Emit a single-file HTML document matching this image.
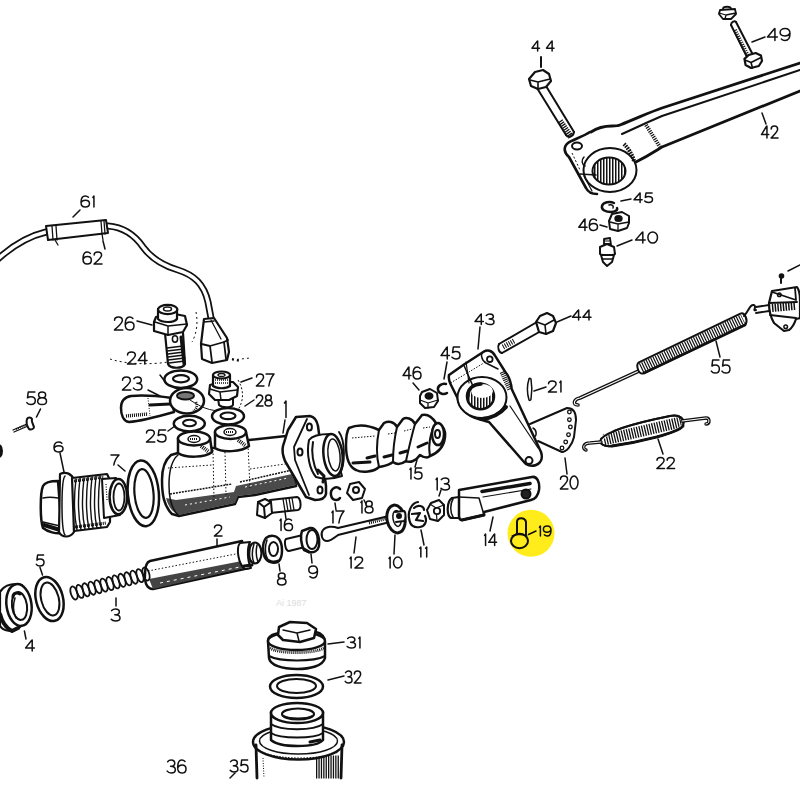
<!DOCTYPE html>
<html><head><meta charset="utf-8"><style>
html,body{margin:0;padding:0;background:#fff;width:800px;height:800px;overflow:hidden}
svg{display:block}
.lbl{fill:none;stroke:#111;stroke-linecap:round;stroke-linejoin:round}
path[stroke-dasharray]{stroke-linecap:butt}
text{font-family:"Liberation Sans",sans-serif;font-size:16px;fill:#111;stroke:#111;stroke-width:0.45px;letter-spacing:0.5px}
</style></head><body>
<svg width="800" height="800" viewBox="0 0 800 800">
<defs>
<pattern id="hatch" width="3" height="10" patternUnits="userSpaceOnUse">
<rect width="3" height="10" fill="#fff"/><rect width="1.5" height="10" fill="#111"/>
</pattern>
</defs>
<g fill="none" stroke="#111" stroke-width="2" stroke-linecap="round" stroke-linejoin="round">

<!-- ===== 42 pedal lever (top right) ===== -->
<g id="p42">
<path d="M591,132 C597,128 604,126 612,126 C616,126 618,126 620,125 C640,117 650,112 662,108 L800,63" stroke-width="2.8"/>
<path d="M622,134 C640,126 652,120 662,116 L800,70"/>
<path d="M634,163 C650,155 657,150 662,147 L800,91" stroke-width="2.8"/>
<path d="M590,132 C582,137 572,140 568,143 C563,147 564,153 569,157 L586,188 C588,192 592,194 597,194" stroke-width="2.6"/>
<ellipse cx="610" cy="170" rx="26.5" ry="22" fill="#fff"/>
<ellipse cx="609" cy="171" rx="16.5" ry="13.5" fill="url(#hatch)"/>
<ellipse cx="577" cy="146" rx="5" ry="3.5"/>
<path d="M580,174 L596,175" stroke-width="1.5"/>
<path d="M572,153 L580,170" stroke-width="1" stroke-dasharray="2 2"/>
<path d="M584,176 L592,191" stroke-width="1.2"/>
<path d="M584,157 C581,160 582,165 585,166" stroke-width="1.5"/>
<path d="M624,144 C628,148 632,154 634,161" stroke-width="4" stroke-dasharray="1.6 1"/>
<path d="M646,125 L660,147" stroke-width="4" stroke-dasharray="1.2 1.1"/>
</g>
<!-- 44 top bolt -->
<g id="b44a">
<path d="M537,88 L566,135 M546,86 L574,132"/>
<path d="M566,135 C568,138 573,137 574,132"/>
<path d="M560,121 L571,137" stroke-width="6" stroke-dasharray="1.3 1"/>
<path d="M529,79 L535,72 L543,70 L549,74 L551,81 L546,87 L538,89 L531,86 Z" fill="#fff" stroke-width="2.2"/>
<path d="M530,80 L538,82 L550,79 M538,82 L538,89" stroke-width="1.6"/>
<path d="M541,57 L541,67"/>
</g>
<g class="lbl" stroke-width="1.5"><path d="M 537.64,51.00 L 537.64,41.00 M 537.26,41.17 L 532.00,48.17 L 539.52,48.17"/><path d="M 552.12,51.00 L 552.12,41.00 M 551.74,41.17 L 546.48,48.17 L 554.00,48.17"/></g>
<!-- 49 bolt + nut -->
<g id="b49">
<path d="M731,25 L747,57 M736,22 L753,55"/>
<path d="M731,25 C731,22 735,20 736,22"/>
<path d="M735,30 L748,56" stroke-width="4" stroke-dasharray="1 1.3"/>
<path d="M744.4,58.8 L748.8,55 L755.6,53 L761,55.6 L762,61 L758.8,66 L751,68 L745.6,65 Z" fill="#fff" stroke-width="2.2"/>
<path d="M745,60 L751,62.5 L761,57.5 M751,62.5 L752.5,68" stroke-width="1.6"/>
<path d="M720,10 L735,9 L736,14 L731,19 L723,19 L719,14 Z" fill="#fff" stroke-width="1.8"/>
<path d="M719,13 L726,15 L736,13 M726,15 L725,19" stroke-width="1.3"/>
<path d="M723,9 C723,6 731,6 731,9" stroke-width="1.8"/>
<path d="M752,42 L765,37" stroke-width="1.5"/>
</g>
<g class="lbl" stroke-width="1.5"><path d="M 774.92,40.50 L 774.92,28.50 M 774.42,28.70 L 767.50,37.10 L 777.39,37.10"/><path d="M 781.35,39.10 C 782.21,40.00 783.57,40.50 785.05,40.50 C 788.02,40.50 790.00,38.10 790.00,33.50 C 790.00,30.40 788.02,28.50 785.05,28.50 C 782.21,28.50 780.11,30.10 780.11,32.30 C 780.11,34.50 782.09,35.90 784.81,35.90 C 787.16,35.90 789.26,34.90 790.00,33.10"/></g>
<path d="M762,113 L766,124" stroke-width="1.5"/>
<g class="lbl" stroke-width="1.5"><path d="M 766.94,138.00 L 766.94,126.00 M 766.58,126.20 L 761.50,134.60 L 768.75,134.60"/><path d="M 771.20,129.00 C 771.20,127.10 772.56,126.00 774.37,126.00 C 776.37,126.00 777.64,127.30 777.64,129.20 C 777.64,131.60 775.10,133.80 771.11,138.00 L 778.00,138.00"/></g>
<!-- 45 46 40 -->
<g id="p40">
<path d="M614,203 C610,201 603,202 602,206 C601,210 606,212 611,212 C615,212 618,210 617,208" stroke-width="2.5"/>
<path d="M609,205 C612,204 614,206 613,208" stroke-width="1.5"/>
<path d="M612,214 L622,212 L629,216 L629,223 L627,228 L618,231 L610,229 L609,221 Z" fill="#fff" stroke-width="2"/>
<path d="M610,222 L618,224 L629,222 M618,224 L618,231" stroke-width="1.3"/>
<ellipse cx="618.5" cy="218.5" rx="3.2" ry="2.5" fill="#111"/>
<path d="M604,239 L610,238 L611,245 L604,246 Z" fill="#fff" stroke-width="1.8"/>
<path d="M604,241 L610,241 M604,243.5 L610,243.5" stroke-width="1"/>
<path d="M600,247 L607,244 L614,247 L615,254 L608,257 L600,254 Z" fill="#fff" stroke-width="2"/>
<path d="M601,255 L614,255 L612,262 L607,266 L603,262 Z" fill="#fff" stroke-width="2"/>
<path d="M602,259 L612,259" stroke-width="1.3"/>
<path d="M621,201 L631,199 M600,225 L607,227 M617,246 L632,240" stroke-width="1.5"/>
</g>
<g class="lbl" stroke-width="1.5"><path d="M 640.10,202.50 L 640.10,193.00 M 639.69,193.16 L 634.00,199.81 L 642.13,199.81"/><path d="M 652.09,193.00 L 645.99,193.00 L 645.28,197.43 C 646.20,196.88 647.32,196.56 648.43,196.56 C 650.98,196.56 652.50,197.75 652.50,199.49 C 652.50,201.31 650.77,202.50 648.43,202.50 C 646.81,202.50 645.38,201.95 644.67,201.07"/></g>
<g class="lbl" stroke-width="1.5"><path d="M 584.96,230.50 L 584.96,219.00 M 584.55,219.19 L 578.80,227.24 L 587.02,227.24"/><path d="M 596.47,220.34 C 595.75,219.48 594.62,219.00 593.39,219.00 C 590.92,219.00 589.28,221.30 589.28,225.71 C 589.28,228.68 590.92,230.50 593.39,230.50 C 595.75,230.50 597.50,228.97 597.50,226.86 C 597.50,224.75 595.86,223.41 593.60,223.41 C 591.64,223.41 589.90,224.37 589.28,226.09"/></g>
<g class="lbl" stroke-width="1.5"><path d="M 642.82,243.00 L 642.82,232.00 M 642.34,232.18 L 635.60,239.88 L 645.23,239.88"/><ellipse cx="652.69" cy="237.50" rx="4.81" ry="5.50"/></g>

<!-- ===== cable 61/62 ===== -->
<g id="cable">
<path d="M-2,259 C10,248 25,237 46,232" stroke-width="7"/>
<path d="M-2,259 C10,248 25,237 46,232" stroke="#fff" stroke-width="3.5"/>
<path d="M108,226 C122,227 134,234 143,247 C151,258 161,265 178,270 C194,275 204,284 208,302 L211,318" stroke-width="7"/>
<path d="M108,226 C122,227 134,234 143,247 C151,258 161,265 178,270 C194,275 204,284 208,302 L211,318" stroke="#fff" stroke-width="3.5"/>
<path d="M46,226 L106,220 L108,233 L48,240 Z" fill="#fff"/>
<path d="M52,226 L53,240 M56,226 L57,240 M101,221 L102,234 M104,221 L105,234" stroke-width="1.3"/>
<path d="M55,240 L58,245 M102,234 L103,240" stroke-width="1.3"/>
<path d="M204,319 L214,318 L227,338 L229,352 L227,360 L212,363 L202,359 L201,344 Z" fill="#fff" stroke-width="2.2"/>
<path d="M201.5,344 L210,346 L224,342 L228,340 M210,346 L212,362 M224,342 L226,359" stroke-width="1.8"/>
<path d="M204,322 L214,321 M211,320 L221,339" stroke-width="1.3"/>
<path d="M232,359 L240,361" stroke-width="2" stroke-dasharray="2 3"/>
<path d="M73,217 L80,210 M103,241 L105,249" stroke-width="1.5"/>
</g>
<g class="lbl" stroke-width="1.5"><path d="M 88.42,197.28 C 87.68,196.46 86.52,196.00 85.24,196.00 C 82.70,196.00 81.00,198.20 81.00,202.42 C 81.00,205.26 82.70,207.00 85.24,207.00 C 87.68,207.00 89.48,205.53 89.48,203.52 C 89.48,201.50 87.79,200.22 85.45,200.22 C 83.44,200.22 81.64,201.13 81.00,202.78"/><path d="M 92.88,197.38 L 93.94,196.00 L 93.94,207.00"/></g>
<g class="lbl" stroke-width="1.5"><path d="M 90.31,253.40 C 89.58,252.50 88.43,252.00 87.18,252.00 C 84.67,252.00 83.00,254.40 83.00,259.00 C 83.00,262.10 84.67,264.00 87.18,264.00 C 89.58,264.00 91.35,262.40 91.35,260.20 C 91.35,258.00 89.68,256.60 87.38,256.60 C 85.40,256.60 83.63,257.60 83.00,259.40"/><path d="M 94.17,255.00 C 94.17,253.10 95.74,252.00 97.82,252.00 C 100.12,252.00 101.58,253.30 101.58,255.20 C 101.58,257.60 98.66,259.80 94.07,264.00 L 102.00,264.00"/></g>

<!-- 26 banjo bolt -->
<g id="b26">
<path d="M165,333 L168,364 C170,369 183,369 185,364 L183,333" fill="#fff" stroke-width="2.2"/>
<path d="M167,348 L183,346 M167,351 L184,349 M168,354 L184,352 M168,357 L184,355 M168,360 L185,358 M169,363 L185,361" stroke-width="1.6"/>
<path d="M181,337 L184,364" stroke-width="3"/>
<ellipse cx="175" cy="339" rx="2.6" ry="3.2" stroke-width="1.5"/>
<path d="M156,317 L170,313 L185,316 L187,325 L183,332 L168,335 L154,331 L154,322 Z" fill="#fff" stroke-width="2.2"/>
<path d="M155,322 L168,326 L187,324 M168,326 L168,335" stroke-width="1.5"/>
<path d="M158,309 L158,319 C162,323 174,323 177,319 L177,309" fill="#fff" stroke-width="2.2"/>
<ellipse cx="167.7" cy="309.5" rx="9.6" ry="4.6" fill="#fff" stroke-width="2.2"/>
<ellipse cx="167.5" cy="309" rx="4" ry="2" stroke-width="1.5"/>
<path d="M137,321 L152,325" stroke-width="1.5"/>
<path d="M110,359 C125,364 150,365 168,362" stroke-width="1" stroke-dasharray="2 3"/>
<path d="M232,360 L250,358" stroke-width="1" stroke-dasharray="2 3"/>
<path d="M196,312 C198,322 197,333 192,342" stroke-width="1" stroke-dasharray="2 3"/>
</g>
<g class="lbl" stroke-width="1.5"><path d="M 114.55,320.25 C 114.55,318.19 116.20,317.00 118.40,317.00 C 120.81,317.00 122.35,318.41 122.35,320.47 C 122.35,323.07 119.27,325.45 114.44,330.00 L 122.79,330.00"/><path d="M 132.90,318.52 C 132.13,317.54 130.92,317.00 129.60,317.00 C 126.97,317.00 125.21,319.60 125.21,324.58 C 125.21,327.94 126.97,330.00 129.60,330.00 C 132.13,330.00 134.00,328.27 134.00,325.88 C 134.00,323.50 132.24,321.98 129.82,321.98 C 127.74,321.98 125.87,323.07 125.21,325.02"/></g>
<g class="lbl" stroke-width="1.5"><path d="M 127.55,355.00 C 127.55,353.10 129.20,352.00 131.40,352.00 C 133.81,352.00 135.35,353.30 135.35,355.20 C 135.35,357.60 132.27,359.80 127.44,364.00 L 135.79,364.00"/><path d="M 144.80,364.00 L 144.80,352.00 M 144.36,352.20 L 138.21,360.60 L 147.00,360.60"/></g>

<!-- 24 washer, 23 banjo, 25 washer -->
<g id="p23">
<ellipse cx="180.8" cy="379.2" rx="16.4" ry="8.8" fill="#fff" stroke-width="2.5"/>
<ellipse cx="181" cy="378.8" rx="8" ry="3.6" stroke-width="2.2"/>
<path d="M160,375 L166,383" stroke-width="1.5"/>
<path d="M131,396 C142,395 158,396 172,398 L174,412 C160,416 142,421 129,422 C123,421 121,414 121,408 C121,401 125,397 131,396 Z" fill="#fff" stroke-width="2.5"/>
<path d="M126,416 L148,414" stroke-width="3.5" stroke-dasharray="1 1"/>
<path d="M150,405 L170,404" stroke-width="3"/>
<path d="M148,398 L150,416" stroke-width="1" stroke-dasharray="1 1.5"/>
<ellipse cx="187" cy="400.7" rx="17" ry="12.7" fill="#fff" stroke-width="2.5"/>
<ellipse cx="185.5" cy="395.7" rx="8.5" ry="3.8" fill="#777" stroke-width="2"/>
<path d="M196,402 C198,406 196,410 193,411" stroke-width="2.5" stroke-dasharray="1 1"/>
<path d="M148,390 L160,396" stroke-width="1.5"/>
<ellipse cx="189.3" cy="423.6" rx="15.5" ry="7.8" fill="#fff" stroke-width="2.5"/>
<ellipse cx="189.5" cy="423" rx="6.5" ry="3.2" stroke-width="2"/>
<path d="M168,431 L175,426" stroke-width="1.5"/>
<path d="M190,400 C205,410 215,412 225,410" stroke-width="1"/>
</g>
<g class="lbl" stroke-width="1.5"><path d="M 122.55,380.25 C 122.55,378.19 124.20,377.00 126.40,377.00 C 128.81,377.00 130.35,378.41 130.35,380.47 C 130.35,383.07 127.27,385.45 122.44,390.00 L 130.79,390.00"/><path d="M 133.87,378.73 C 134.86,377.54 136.18,377.00 137.60,377.00 C 139.80,377.00 141.34,378.30 141.34,380.25 C 141.34,382.20 139.80,383.28 136.95,383.28 C 140.02,383.28 142.00,384.58 142.00,386.75 C 142.00,388.81 140.13,390.00 137.60,390.00 C 135.96,390.00 134.31,389.35 133.43,388.16"/></g>
<g class="lbl" stroke-width="1.5"><path d="M 146.55,433.00 C 146.55,431.10 148.20,430.00 150.40,430.00 C 152.81,430.00 154.35,431.30 154.35,433.20 C 154.35,435.60 151.27,437.80 146.44,442.00 L 154.79,442.00"/><path d="M 165.56,430.00 L 158.97,430.00 L 158.20,435.60 C 159.19,434.90 160.40,434.50 161.60,434.50 C 164.35,434.50 166.00,436.00 166.00,438.20 C 166.00,440.50 164.13,442.00 161.60,442.00 C 159.85,442.00 158.31,441.30 157.54,440.20"/></g>

<!-- 27 union, 28 washer -->
<g id="p27">
<path d="M218,398 L219,405 C222,408 231,408 233,405 L233,398" fill="#fff" stroke-width="2"/>
<path d="M210,385 L220,382 L233,382 L238,387 L237,396 L229,400 L215,400 L209,394 Z" fill="#fff" stroke-width="2.2"/>
<path d="M210,389 L220,392 L237,390 M220,392 L221,400" stroke-width="1.5"/>
<path d="M213,375 L213,386 C217,389 226,389 230,386 L230,375" fill="#fff" stroke-width="2.2"/>
<ellipse cx="221.5" cy="375" rx="8.5" ry="3.5" fill="#fff" stroke-width="2.2"/>
<ellipse cx="221.5" cy="375" rx="3.5" ry="1.5" stroke-width="1.3"/>
<path d="M215,380 L228,380 M215,383 L228,383" stroke-width="1.5" stroke-dasharray="1 1"/>
<ellipse cx="228" cy="416.3" rx="16" ry="8.3" fill="#fff" stroke-width="2.5"/>
<ellipse cx="228" cy="415.8" rx="7.5" ry="3.3" stroke-width="2.2"/>
<path d="M241,382 L252,378 M245,406 L254,400" stroke-width="1.5"/>
<path d="M238,380 C244,390 244,400 238,410" stroke-width="1" stroke-dasharray="2 2"/>
</g>
<g class="lbl" stroke-width="1.5"><path d="M 256.49,377.00 C 256.49,375.10 257.98,374.00 259.96,374.00 C 262.13,374.00 263.52,375.30 263.52,377.20 C 263.52,379.60 260.75,381.80 256.40,386.00 L 263.91,386.00"/><path d="M 266.09,374.00 L 274.00,374.00 C 271.23,377.40 269.45,381.40 268.86,386.00"/></g>
<g class="lbl" stroke-width="1.5"><path d="M 256.44,397.75 C 256.44,396.01 257.76,395.00 259.52,395.00 C 261.45,395.00 262.68,396.19 262.68,397.93 C 262.68,400.13 260.22,402.15 256.35,406.00 L 263.03,406.00"/><path d="M 268.48,400.13 C 266.73,400.13 265.67,399.12 265.67,397.66 C 265.67,396.10 266.90,395.00 268.48,395.00 C 270.07,395.00 271.30,396.10 271.30,397.66 C 271.30,399.12 270.24,400.13 268.48,400.13 C 266.46,400.13 264.97,401.32 264.97,403.07 C 264.97,404.81 266.55,406.00 268.48,406.00 C 270.42,406.00 272.00,404.81 272.00,403.07 C 272.00,401.32 270.51,400.13 268.48,400.13 Z"/></g>

<!-- ===== 1 master cylinder ===== -->
<g id="p1">
<path d="M171,455 C165,460 162,468 162,480 C162,495 164,506 172,514 L179,516 L235,504 L238,497 L255,495 L296,486 L286,436 L249,440 L215,448 L212,448 L178,453 Z" fill="#fff" stroke-width="2.5"/>
<path d="M166,498 C168,506 172,512 179,515 L235,503 L238,496 L255,494 L296,485 L292,474 L255,482 L236,486 L234,492 L176,500 Z" fill="#4a4a4a" stroke="none"/>
<path d="M185,505 L230,497 M245,487 L288,478" stroke="#fff" stroke-width="1" stroke-dasharray="2 3"/>
<path d="M170,494 L232,484 M240,482 L292,470" stroke-width="1.5" stroke-dasharray="2 1"/>
<path d="M179,516 C172,510 169,500 169,485 C169,470 172,460 178,455" stroke-width="1.5"/>
<path d="M168,468 L212,465 M250,469 L292,463" stroke-width="1" stroke-dasharray="1.5 2"/>
<path d="M213,450 L214,500 M225,452 L226,495 M248,445 L250,488" stroke-width="1" stroke-dasharray="1.5 2"/>
<!-- port a -->
<path d="M178,438 L178,453 C185,458 205,458 212,452 L210,438" fill="#fff" stroke-width="2.5"/>
<ellipse cx="194" cy="438.5" rx="16" ry="7" fill="#fff" stroke-width="2.5"/>
<ellipse cx="194" cy="439" rx="6" ry="3.5" fill="#fff" stroke-width="1.5"/>
<path d="M190,439 L198,439" stroke-width="2" stroke-dasharray="1 1"/>
<path d="M201,446 L209,452" stroke-width="4" stroke-dasharray="1 1"/>
<!-- port b -->
<path d="M215,432 L215,448 C222,453 242,452 249,446 L246,432" fill="#fff" stroke-width="2.5"/>
<ellipse cx="230.5" cy="432" rx="15.5" ry="7" fill="#fff" stroke-width="2.5"/>
<ellipse cx="230" cy="432" rx="6" ry="3.5" fill="#fff" stroke-width="1.5"/>
<path d="M226,432 L234,432" stroke-width="2" stroke-dasharray="1 1"/>
<path d="M238,440 L246,446" stroke-width="4" stroke-dasharray="1 1"/>
<!-- flange -->
<path d="M296,417 L310,416 C315,417 317,421 318,426 L326,486 L326,494 C325,499 321,500 315,500 L306,497 L285,461 C283,456 282,450 283,446 L288,430 Z" fill="#fff" stroke-width="2.5"/>
<path d="M307,419 L294,447 L295,460 L309,495" stroke-width="1.8"/>
<ellipse cx="309.4" cy="427" rx="2.5" ry="3.5" stroke-width="2"/>
<ellipse cx="300" cy="452" rx="2.5" ry="3.5" stroke-width="2"/>
<ellipse cx="320" cy="490" rx="2.5" ry="3.5" stroke-width="2"/>
<!-- spigot -->
<path d="M309,440 C312,436 318,434 330,434 L342,476 C336,478 325,480 316,477 C310,470 306,455 309,440 Z" fill="#fff" stroke-width="2"/>
<ellipse cx="333" cy="455" rx="9.5" ry="21" fill="#fff" stroke-width="2.5" transform="rotate(-6 333 455)"/>
<ellipse cx="334" cy="455" rx="6" ry="16" stroke-width="1.5" transform="rotate(-6 334 455)"/>
<path d="M313,442 C311,452 313,465 318,474" stroke-width="2"/>
<path d="M318,470 L324,476 L323,482" stroke-width="3"/>
<path d="M285,420 L283,433" stroke-width="1.5"/>
</g>
<g class="lbl" stroke-width="1.5"><path d="M 284.50,403.06 L 286.00,401.00 L 286.00,417.50"/></g>

<!-- 58 screw -->
<g id="p58">
<path d="M13,430 L27,424 M14,432 L28,426" stroke-width="1.3"/>
<path d="M16,429 L26,425" stroke-width="2" stroke-dasharray="1 1"/>
<path d="M27,419 C28,417 31,417 32,419 C31,421 33,424 34,427 C34,429 31,430 29,429 C27,426 26,422 27,419 Z" fill="#fff" stroke-width="2"/>
<path d="M36.5,417 L40.5,409" stroke-width="1.6"/>
<path d="M0,446 C2,448 2,454 0,456" stroke-width="3"/>
</g>
<g class="lbl" stroke-width="1.5"><path d="M 34.85,392.00 L 28.26,392.00 L 27.49,397.83 C 28.48,397.10 29.69,396.69 30.90,396.69 C 33.64,396.69 35.29,398.25 35.29,400.54 C 35.29,402.94 33.42,404.50 30.90,404.50 C 29.14,404.50 27.60,403.77 26.83,402.62"/><path d="M 42.10,397.83 C 39.91,397.83 38.59,396.69 38.59,395.02 C 38.59,393.25 40.13,392.00 42.10,392.00 C 44.08,392.00 45.62,393.25 45.62,395.02 C 45.62,396.69 44.30,397.83 42.10,397.83 C 39.58,397.83 37.71,399.19 37.71,401.17 C 37.71,403.15 39.69,404.50 42.10,404.50 C 44.52,404.50 46.50,403.15 46.50,401.17 C 46.50,399.19 44.63,397.83 42.10,397.83 Z"/></g>

<!-- 6 gland -->
<g id="p6">
<path d="M58,481 C50,481 45,482 43,486 C40,493 40,520 43,528 C48,532 56,534 62,533 Z" fill="#fff" stroke-width="2.5"/>
<path d="M43,498 C47,497 53,497 58,498 M43,522 L60,526" stroke-width="1.5"/>
<path d="M44,525 L60,530" stroke-width="4"/>
<path d="M60,474 C66,471 72,474 74,480 L74,532 C70,538 62,538 59,532 Z" fill="#fff" stroke-width="2.2"/>
<path d="M65,476 C61,480 61,530 65,535" stroke-width="1.5"/>
<path d="M72,478 L107,474 L110,480 L110,522 L107,527 L74,531 Z" fill="#fff" stroke-width="2.2"/>
<path d="M76,479 C74,495 74,515 77,530 M80,478 C78,495 78,515 81,530 M84,478 C82,495 82,515 85,529 M88,477 C86,495 86,515 89,529 M92,477 C90,495 90,515 93,528 M96,476 C94,495 94,515 97,528 M100,476 C98,495 98,515 101,527" stroke-width="1.4"/>
<path d="M74,481 L104,477" stroke-width="3" stroke-dasharray="1 1"/>
<path d="M75,527 L106,523" stroke-width="3" stroke-dasharray="1 1"/>
<path d="M102,479 L116,478 L120,515 L104,518 Z" fill="#fff" stroke-width="2"/>
<path d="M106,484 L107,500" stroke-width="1.2" stroke-dasharray="1 1.5"/>
<ellipse cx="118.4" cy="496.7" rx="8.8" ry="17.6" fill="#fff" stroke-width="2.5"/>
<ellipse cx="119" cy="497" rx="5.5" ry="13.5" stroke-width="1.8"/>
<path d="M60,453 L64,472" stroke-width="1.5"/>
</g>
<g class="lbl" stroke-width="1.5"><path d="M 61.88,443.17 C 61.09,442.42 59.85,442.00 58.50,442.00 C 55.80,442.00 54.00,444.00 54.00,447.83 C 54.00,450.42 55.80,452.00 58.50,452.00 C 61.09,452.00 63.00,450.67 63.00,448.83 C 63.00,447.00 61.20,445.83 58.73,445.83 C 56.59,445.83 54.67,446.67 54.00,448.17"/></g>

<!-- 7 ring -->
<g id="p7">
<ellipse cx="143.3" cy="493.3" rx="15.5" ry="33" stroke-width="2.5" transform="rotate(-5 143.3 493.3)"/>
<ellipse cx="144" cy="493.5" rx="9.5" ry="24.5" stroke-width="2.2" transform="rotate(-5 144 493.5)"/>
<path d="M118,465 L125,471" stroke-width="1.5"/>
</g>
<g class="lbl" stroke-width="1.5"><path d="M 111.00,455.00 L 119.00,455.00 C 116.20,457.83 114.40,461.17 113.80,465.00"/></g>

<!-- 16 bolt, 17 c-washer, 18 nut -->
<g id="p16">
<path d="M270,500 L297,497 C301,498 302,509 298,510 L270,513 Z" fill="#fff"/>
<path d="M283,499 L285,511 M286,499 L288,511 M289,498 L291,510 M292,498 L294,510" stroke-width="1.3"/>
<path d="M258,502 L265,499 L271,502 L272,513 L265,518 L257,515 Z" fill="#fff"/>
<path d="M258,502 L264,507 L271,502 M264,507 L265,518"/>
<path d="M285,512 L286,519" stroke-width="1.5"/>
<path d="M340,489 C336,485 330,489 331,495 C332,501 338,501 340,498" stroke-width="2.5"/>
<path d="M335,503 L336,510" stroke-width="1.5"/>
<path d="M350,484 L359,482 L365,489 L362,498 L353,500 L347,493 Z" fill="#fff"/>
<circle cx="356" cy="490" r="3"/>
<path d="M364,500 L366,504" stroke-width="1.5"/>
</g>
<g class="lbl" stroke-width="1.5"><path d="M 280.02,520.45 L 281.05,519.00 L 281.05,530.60"/><path d="M 291.48,520.35 C 290.76,519.48 289.64,519.00 288.41,519.00 C 285.95,519.00 284.32,521.32 284.32,525.77 C 284.32,528.76 285.95,530.60 288.41,530.60 C 290.76,530.60 292.50,529.05 292.50,526.93 C 292.50,524.80 290.86,523.45 288.61,523.45 C 286.67,523.45 284.93,524.41 284.32,526.15"/></g>
<g class="lbl" stroke-width="1.5"><path d="M 331.98,512.50 L 332.97,511.00 L 332.97,523.00"/><path d="M 336.12,511.00 L 344.00,511.00 C 341.24,514.40 339.47,518.40 338.88,523.00"/></g>
<g class="lbl" stroke-width="1.5"><path d="M 360.98,502.50 L 361.97,501.00 L 361.97,513.00"/><path d="M 369.06,506.60 C 367.09,506.60 365.91,505.50 365.91,503.90 C 365.91,502.20 367.29,501.00 369.06,501.00 C 370.83,501.00 372.21,502.20 372.21,503.90 C 372.21,505.50 371.03,506.60 369.06,506.60 C 366.80,506.60 365.12,507.90 365.12,509.80 C 365.12,511.70 366.89,513.00 369.06,513.00 C 371.23,513.00 373.00,511.70 373.00,509.80 C 373.00,507.90 371.33,506.60 369.06,506.60 Z"/></g>

<!-- ===== 15 boots ===== -->
<g id="p15">
<path d="M349,428 C356,425 366,424 379,430 L384,423 C388,421 394,421 397,427 L403,419 C406,417 412,418 415,424 L422,415 C426,414 431,415 436,423 C442,424 446,430 445,437 C444,446 440,452 430,456 C428,458 424,458 420,455 C416,461 410,463 406,461 C402,464 397,465 393,462 C388,466 383,466 379,467 C374,472 362,473 356,470 C349,467 346,458 346,445 C346,436 347,431 349,428 Z" fill="#fff" stroke-width="2.5"/>
<path d="M379,430 C377,440 376,455 379,467" stroke-width="2"/>
<path d="M397,427 C394,440 393,452 393,462" stroke-width="2"/>
<path d="M415,424 C411,438 408,452 406,461" stroke-width="2"/>
<path d="M436,423 C430,432 428,446 430,456" stroke-width="2"/>
<ellipse cx="438" cy="434" rx="6" ry="11" fill="#fff" stroke-width="2.5"/>
<ellipse cx="437.5" cy="434" rx="2.5" ry="4"/>
<path d="M353,463 L370,462 M367,458 L375,456 M384,457 L392,455 M400,453 L407,451 M418,447 L427,443" stroke-width="3"/>
<path d="M352,438 L375,436 M388,434 L395,433 M404,431 L412,429 M423,428 L430,427" stroke-width="1" stroke-dasharray="1.5 1.5"/>
<path d="M417,460 L415,467" stroke-width="1.5"/>
<path d="M339,432 C345,440 346,465 339,475" stroke-width="2"/>
</g>
<g class="lbl" stroke-width="1.5"><path d="M 409.98,469.38 L 410.97,468.00 L 410.97,479.00"/><path d="M 421.61,468.00 L 415.70,468.00 L 415.01,473.13 C 415.89,472.49 416.98,472.12 418.06,472.12 C 420.52,472.12 422.00,473.50 422.00,475.52 C 422.00,477.62 420.33,479.00 418.06,479.00 C 416.48,479.00 415.11,478.36 414.42,477.35"/></g>

<!-- ===== 43 lever ===== -->
<g id="p43">
<path d="M449,375 L464,364.5 L484,351.5 C487,349.5 492,350 495,355.7 L505,371.5 C508,375 511,382 511.7,389 L541,452 C543,458 541,463 536,465 C531,467 526,465 524,462 L489,422 C486,421 482,420 478.5,419 C466,416 459,407 457.5,398 L450.5,384 C449,381 448.5,378 449,375 Z" fill="#fff" stroke-width="2.5"/>
<ellipse cx="482" cy="397.5" rx="24.5" ry="20.5" fill="#fff" stroke-width="2"/>
<ellipse cx="480.5" cy="396.5" rx="13.5" ry="12.7" fill="url(#hatch)" stroke-width="2.5"/>
<ellipse cx="482" cy="391" rx="11" ry="7" fill="#fff" stroke="none"/>
<path d="M468,396 C468,388 474,384 481,384" stroke-width="3.5"/>
<path d="M463.6,364.5 L472.3,384.6" stroke-width="1.5"/>
<path d="M466,362 L469,383" stroke-width="1.2"/>
<path d="M450.5,383 L485.5,362" stroke-width="1" stroke-dasharray="1.5 1.5"/>
<path d="M484,351.5 C480,353 481,360 486,363 L498,369" stroke-width="1.5"/>
<circle cx="489.8" cy="359.2" r="2.8" stroke-width="1.8"/>
<path d="M502,372 L510,390" stroke-width="5" stroke-dasharray="1 1"/>
<path d="M482,419 C492,418 500,414 506,407" stroke-width="4"/>
<path d="M510,406 L538,448" stroke-width="1.2"/>
<circle cx="529" cy="460.6" r="3.5" stroke-width="2"/>
<path d="M480,327 L478,349" stroke-width="1.5"/>
</g>
<g class="lbl" stroke-width="1.5"><path d="M 481.26,324.50 L 481.26,314.00 M 480.85,314.18 L 475.00,321.52 L 483.35,321.52"/><path d="M 486.27,315.40 C 487.21,314.44 488.47,314.00 489.82,314.00 C 491.91,314.00 493.37,315.05 493.37,316.62 C 493.37,318.20 491.91,319.07 489.20,319.07 C 492.12,319.07 494.00,320.12 494.00,321.88 C 494.00,323.54 492.23,324.50 489.82,324.50 C 488.26,324.50 486.69,323.98 485.86,323.01"/></g>

<!-- 44 mid bolt, 45, 46 -->
<g id="b44b">
<path d="M499,344 L537,322 M502,353 L541,331"/>
<path d="M499,344 C497,347 499,353 502,353"/>
<path d="M503,347 L514,341" stroke-width="5" stroke-dasharray="1 1.3"/>
<path d="M536,322 L540,316 L547,313 L553,316 L556,323 L553,331 L546,334 L539,332 Z" fill="#fff" stroke-width="2.2"/>
<path d="M537,322 L545,325 L554,320 M545,325 L546,334" stroke-width="1.6"/>
<path d="M557,322 L571,316" stroke-width="1.5"/>
<path d="M446,384 C442,383 437,386 438,390 C439,394 444,395 447,393" stroke-width="2.5"/>
<path d="M447,362 L444,379" stroke-width="1.5"/>
<path d="M422,392 L430,389 L437,393 L438,401 L434,407 L425,408 L420,403 L420,396 Z" fill="#fff" stroke-width="2"/>
<path d="M420,400 L428,403 L438,400 M428,403 L428,408" stroke-width="1.3"/>
<ellipse cx="429" cy="396" rx="3.5" ry="2.8" fill="#111"/>
<path d="M413,383 L419,390" stroke-width="1.5"/>
<path d="M529,379 C527,385 527,393 529,400 C530,401 531,400 531,399 C532,393 532,385 531,379 C530,378 529,378 529,379 Z" stroke-width="1.5" fill="#fff"/>
<path d="M534,391 L546,387" stroke-width="1.5"/>
</g>
<g class="lbl" stroke-width="1.5"><path d="M 578.60,320.00 L 578.60,310.00 M 578.19,310.17 L 572.50,317.17 L 580.63,317.17"/><path d="M 588.97,320.00 L 588.97,310.00 M 588.56,310.17 L 582.87,317.17 L 591.00,317.17"/></g>
<g class="lbl" stroke-width="1.5"><path d="M 447.26,359.00 L 447.26,347.00 M 446.85,347.20 L 441.00,355.60 L 449.35,355.60"/><path d="M 459.58,347.00 L 453.32,347.00 L 452.59,352.60 C 453.53,351.90 454.68,351.50 455.82,351.50 C 458.43,351.50 460.00,353.00 460.00,355.20 C 460.00,357.50 458.23,359.00 455.82,359.00 C 454.15,359.00 452.69,358.30 451.96,357.20"/></g>
<g class="lbl" stroke-width="1.5"><path d="M 408.93,379.00 L 408.93,367.00 M 408.54,367.20 L 403.00,375.60 L 410.91,375.60"/><path d="M 420.01,368.40 C 419.32,367.50 418.23,367.00 417.04,367.00 C 414.67,367.00 413.09,369.40 413.09,374.00 C 413.09,377.10 414.67,379.00 417.04,379.00 C 419.32,379.00 421.00,377.40 421.00,375.20 C 421.00,373.00 419.42,371.60 417.24,371.60 C 415.36,371.60 413.68,372.60 413.09,374.40"/></g>
<g class="lbl" stroke-width="1.5"><path d="M 548.53,383.75 C 548.53,382.01 550.12,381.00 552.24,381.00 C 554.58,381.00 556.06,382.19 556.06,383.93 C 556.06,386.13 553.09,388.15 548.42,392.00 L 556.48,392.00"/><path d="M 559.88,382.38 L 560.94,381.00 L 560.94,392.00"/></g>

<!-- 20 plate -->
<g id="p20">
<path d="M530,424 L567,408 C573,408 576,412 576,420 L574,437 C572,446 566,452 562,452 L538,441" fill="#fff" stroke-width="2"/>
<circle cx="569.4" cy="412" r="1.8" stroke-width="1.3"/>
<circle cx="569.4" cy="419.7" r="1.8" stroke-width="1.3"/>
<circle cx="570.4" cy="427" r="1.8" stroke-width="1.3"/>
<circle cx="568.5" cy="434.7" r="1.8" stroke-width="1.3"/>
<circle cx="565.7" cy="442" r="1.8" stroke-width="1.3"/>
<circle cx="562" cy="448" r="1.8" stroke-width="1.3"/>
<path d="M533,428 C537,430 537,436 534,437" stroke-width="1.5"/>
<path d="M565,458 L567,474" stroke-width="1.5"/>
</g>
<g class="lbl" stroke-width="1.5"><path d="M 560.49,479.25 C 560.49,477.19 561.98,476.00 563.96,476.00 C 566.13,476.00 567.52,477.41 567.52,479.47 C 567.52,482.07 564.75,484.45 560.40,489.00 L 567.91,489.00"/><ellipse cx="574.04" cy="482.50" rx="3.96" ry="6.50"/></g>

<!-- 55 spring -->
<g id="p55">
<path d="M641,370 L580,398 C574,399 572,405 578,405" stroke-width="3.6"/>
<path d="M641,370 L580,398 C574,399 572,405 578,405" stroke="#fff" stroke-width="1.1"/>
<path d="M638.4,362.6 L740.4,313.6 C745,312 748,320 745.6,324.4 L643.6,373.4 C638,375 636,365 638.4,362.6 Z" fill="#fff" stroke-width="2"/>
<path d="M641,368 L743,319" stroke-width="10" stroke-dasharray="1.2 1.3"/>
<path d="M644,373 L745,325" stroke-width="2.5"/>
<path d="M744,316 C747,313 749,308 751,306 C753,304 755,305 755,307 C755,309 753,311 756,310" stroke-width="2"/>
<path d="M716,341 L720,357" stroke-width="1.5"/>
<path d="M772,291 L797,287 C799,290 800,295 800,300 L800,318 L796,319 C794,325 792,328 789,330 L784,331 L774,323 C771,318 769,312 769,303 Z" fill="#fff" stroke-width="2.2"/>
<path d="M772,292 L796,300 L795,288 M769,303 L797,302 M770,315 L796,318" stroke-width="1.8"/>
<path d="M772,308 L795,306" stroke-width="8" stroke-dasharray="1.5 1.2"/>
<circle cx="779.3" cy="294.8" r="1.8" stroke-width="1.5"/>
<circle cx="785.7" cy="326.7" r="1.8" stroke-width="1.5"/>
<path d="M756,307 L769,305 M756,313 L769,311" stroke-width="1.8"/>
<circle cx="781.5" cy="276" r="2.8" fill="#111" stroke="none"/>
<path d="M781,278 L781,283" stroke-width="2"/>
<path d="M788,271 L800,265" stroke-width="1.5"/>
</g>
<g class="lbl" stroke-width="1.5"><path d="M 718.93,360.00 L 712.67,360.00 L 711.94,366.07 C 712.88,365.31 714.03,364.88 715.18,364.88 C 717.79,364.88 719.35,366.50 719.35,368.88 C 719.35,371.38 717.58,373.00 715.18,373.00 C 713.51,373.00 712.04,372.24 711.31,371.05"/><path d="M 729.58,360.00 L 723.32,360.00 L 722.59,366.07 C 723.53,365.31 724.68,364.88 725.82,364.88 C 728.43,364.88 730.00,366.50 730.00,368.88 C 730.00,371.38 728.23,373.00 725.82,373.00 C 724.15,373.00 722.69,372.24 721.96,371.05"/></g>

<!-- 22 spring -->
<g id="p22">
<path d="M601,439 C608,431 635,423 670,416 C680,414 685,419 683,426 C678,433 640,442 612,446 C604,447 599,444 601,439 Z" fill="#fff" stroke-width="2"/>
<path d="M604,440 L681,422" stroke-width="11" stroke-dasharray="1.3 1.3"/>
<path d="M601,440 C605,436 608,432 612,431 M683,426 C680,428 678,430 675,431" stroke="#fff" stroke-width="3"/>
<path d="M601,439 C608,431 635,423 670,416 C680,414 685,419 683,426 C678,433 640,442 612,446 C604,447 599,444 601,439 Z" stroke-width="2"/>
<path d="M612,446 C640,442 678,433 683,426" stroke-width="3"/>
<path d="M601,442 L590,443 C583,443 582,449 586,450" stroke-width="3.4"/>
<path d="M601,442 L590,443 C583,443 582,449 586,450" stroke="#fff" stroke-width="1"/>
<path d="M682,421 L706,418 C710,418 710,424 706,424" stroke-width="3.4"/>
<path d="M682,421 L706,418 C710,418 710,424 706,424" stroke="#fff" stroke-width="1"/>
<path d="M658,439 L663,454" stroke-width="1.5"/>
</g>
<g class="lbl" stroke-width="1.5"><path d="M 657.00,460.25 C 657.00,458.51 658.49,457.50 660.48,457.50 C 662.67,457.50 664.06,458.69 664.06,460.43 C 664.06,462.63 661.27,464.65 656.90,468.50 L 664.46,468.50"/><path d="M 667.14,460.25 C 667.14,458.51 668.63,457.50 670.62,457.50 C 672.81,457.50 674.20,458.69 674.20,460.43 C 674.20,462.63 671.42,464.65 667.04,468.50 L 674.60,468.50"/></g>

<!-- ===== 2 piston ===== -->
<g id="p2">
<path d="M150,561 L242,541 L249,568 L153,589 C146,589 144,580 145,574 C145,567 147,562 150,561 Z" fill="#fff" stroke-width="2.5"/>
<path d="M149,579 L247,560 L249,567 L153,589 Z" fill="#444" stroke="none"/>
<path d="M160,583 L240,567" stroke="#fff" stroke-width="1" stroke-dasharray="3 4"/>
<path d="M148,571 L246,552" stroke-width="1" stroke-dasharray="1.5 2"/>
<path d="M240,543 C236,548 238,564 245,569 L251,568 C247,560 247,548 250,542 Z" fill="#fff" stroke-width="2"/>
<ellipse cx="255" cy="553" rx="6.5" ry="10.5" fill="#fff" stroke-width="2.2"/>
<path d="M251,545 C249,550 249,558 251,562 M254,544 C252,550 252,558 254,563 M257,545 C256,550 256,557 258,562" stroke-width="1.5"/>
<path d="M244,566 L252,565" stroke-width="3"/>
<path d="M217,539 L217,546" stroke-width="1.5"/>
</g>
<g class="lbl" stroke-width="1.5"><path d="M 214.50,527.75 C 214.50,526.01 216.00,525.00 218.00,525.00 C 220.20,525.00 221.60,526.19 221.60,527.93 C 221.60,530.13 218.80,532.15 214.40,536.00 L 222.00,536.00"/></g>

<!-- 3 spring -->
<g id="p3" stroke-width="1.8">
<ellipse cx="74.0" cy="593.0" rx="3.2" ry="6.8" transform="rotate(-18 74.0 593.0)"/>
<ellipse cx="80.0" cy="591.4" rx="3.2" ry="6.8" transform="rotate(-18 80.0 591.4)"/>
<ellipse cx="86.0" cy="589.8" rx="3.2" ry="6.8" transform="rotate(-18 86.0 589.8)"/>
<ellipse cx="92.0" cy="588.2" rx="3.2" ry="6.8" transform="rotate(-18 92.0 588.2)"/>
<ellipse cx="98.0" cy="586.7" rx="3.2" ry="6.8" transform="rotate(-18 98.0 586.7)"/>
<ellipse cx="104.0" cy="585.1" rx="3.2" ry="6.8" transform="rotate(-18 104.0 585.1)"/>
<ellipse cx="110.0" cy="583.5" rx="3.2" ry="6.8" transform="rotate(-18 110.0 583.5)"/>
<ellipse cx="116.0" cy="581.9" rx="3.2" ry="6.8" transform="rotate(-18 116.0 581.9)"/>
<ellipse cx="122.0" cy="580.3" rx="3.2" ry="6.8" transform="rotate(-18 122.0 580.3)"/>
<ellipse cx="128.0" cy="578.8" rx="3.2" ry="6.8" transform="rotate(-18 128.0 578.8)"/>
<ellipse cx="134.0" cy="577.2" rx="3.2" ry="6.8" transform="rotate(-18 134.0 577.2)"/>
<ellipse cx="140.0" cy="575.6" rx="3.2" ry="6.8" transform="rotate(-18 140.0 575.6)"/>
<ellipse cx="146.0" cy="574.0" rx="3.2" ry="6.8" transform="rotate(-18 146.0 574.0)"/>
<path d="M116,598 L116,606" stroke-width="1.5"/>
</g>
<g class="lbl" stroke-width="1.5"><path d="M 111.67,610.60 C 112.69,609.50 114.04,609.00 115.50,609.00 C 117.75,609.00 119.33,610.20 119.33,612.00 C 119.33,613.80 117.75,614.80 114.83,614.80 C 117.97,614.80 120.00,616.00 120.00,618.00 C 120.00,619.90 118.09,621.00 115.50,621.00 C 113.81,621.00 112.12,620.40 111.22,619.30"/></g>

<!-- 5 ring, 4 cup -->
<g id="p5">
<ellipse cx="49.5" cy="599" rx="13.5" ry="22.5" stroke-width="2.5" transform="rotate(-14 49.5 599)"/>
<ellipse cx="50" cy="599" rx="8.8" ry="16.8" stroke-width="2" transform="rotate(-14 50 599)"/>
<path d="M40,567.5 L42.5,575" stroke-width="1.5"/>
<path d="M0,592 C3,587 9,584 16,584 L22,585 C12,600 12,620 20,627 L12,631 C6,631 2,629 0,626 Z" fill="#fff" stroke-width="2.2"/>
<path d="M0,614 C2,622 6,628 12,631 L18,628" stroke-width="4"/>
<ellipse cx="19" cy="605" rx="12.5" ry="21" fill="#fff" stroke-width="2.5" transform="rotate(-8 19 605)"/>
<ellipse cx="19.5" cy="606" rx="7.5" ry="14" stroke-width="2" transform="rotate(-8 19.5 606)"/>
<path d="M13,597 C13,593 17,592 20,594" stroke-width="3"/>
<path d="M15,598 C13,604 13,612 16,618" stroke-width="1.5"/>
<path d="M24.4,631 L26,639" stroke-width="1.5"/>
</g>
<g class="lbl" stroke-width="1.5"><path d="M 43.60,555.00 L 37.60,555.00 L 36.90,560.13 C 37.80,559.49 38.90,559.12 40.00,559.12 C 42.50,559.12 44.00,560.50 44.00,562.52 C 44.00,564.62 42.30,566.00 40.00,566.00 C 38.40,566.00 37.00,565.36 36.30,564.35"/></g>
<g class="lbl" stroke-width="1.5"><path d="M 32.20,651.00 L 32.20,640.00 M 31.76,640.18 L 25.60,647.88 L 34.40,647.88"/></g>

<!-- 8 nut, 9 pin -->
<g id="p8">
<path d="M266,538 C270,535 276,535 279,539 C283,545 283,556 279,561 C276,564 269,563 266,559 C262,553 262,543 266,538 Z" fill="#fff" stroke-width="2.5"/>
<ellipse cx="273.5" cy="549" rx="4.5" ry="7" fill="#fff" stroke-width="2"/>
<path d="M267,540 C265,546 265,553 267,558" stroke-width="1.5"/>
<path d="M265,557 C268,562 274,563 278,561" stroke-width="3"/>
<path d="M279,564 L280,571" stroke-width="1.5"/>
<path d="M286,539 L303,535 L305,547 L289,551 C285,551 284,541 286,539 Z" fill="#fff" stroke-width="2"/>
<path d="M302,531 L310,528 C316,527 320,536 319,546 C318,551 314,553 309,552 L304,550 C301,544 300,536 302,531 Z" fill="#fff" stroke-width="2.5"/>
<ellipse cx="312" cy="539.5" rx="5.5" ry="9.5" fill="#fff" stroke-width="2"/>
<path d="M304,549 L309,552" stroke-width="3"/>
<path d="M311,554 L312,563" stroke-width="1.5"/>
</g>
<g class="lbl" stroke-width="1.5"><path d="M 281.75,578.60 C 279.62,578.60 278.35,577.50 278.35,575.90 C 278.35,574.20 279.84,573.00 281.75,573.00 C 283.66,573.00 285.15,574.20 285.15,575.90 C 285.15,577.50 283.88,578.60 281.75,578.60 C 279.31,578.60 277.50,579.90 277.50,581.80 C 277.50,583.70 279.41,585.00 281.75,585.00 C 284.09,585.00 286.00,583.70 286.00,581.80 C 286.00,579.90 284.19,578.60 281.75,578.60 Z"/></g>
<g class="lbl" stroke-width="1.5"><path d="M 309.89,576.60 C 310.65,577.50 311.85,578.00 313.15,578.00 C 315.76,578.00 317.50,575.60 317.50,571.00 C 317.50,567.90 315.76,566.00 313.15,566.00 C 310.65,566.00 308.80,567.60 308.80,569.80 C 308.80,572.00 310.54,573.40 312.93,573.40 C 315.00,573.40 316.85,572.40 317.50,570.60"/></g>

<!-- 12 push rod, 10 washer, 11 spring washer -->
<g id="p12">
<path d="M323,530 C320,534 322,541 327,541 C331,541 334,538 338,535 L390,522 L389,516 L338,528 C333,526 326,526 323,530 Z" fill="#fff" stroke-width="2"/>
<path d="M369,523 L389,518" stroke-width="3" stroke-dasharray="1 1"/>
<path d="M356,537 L354,553" stroke-width="1.5"/>
<ellipse cx="396" cy="519" rx="9" ry="14" fill="#fff" stroke-width="3" transform="rotate(-10 396 519)"/>
<ellipse cx="397" cy="518.5" rx="4" ry="8" stroke-width="1.5" transform="rotate(-10 397 518.5)"/>
<path d="M395,512 L404,511 C406,512 406,520 404,521 L396,522" fill="#fff" stroke-width="2"/>
<circle cx="399" cy="516" r="2" fill="#111"/>
<path d="M395,535 L394,554" stroke-width="1.5"/>
<path d="M418,502 C411,503 408,512 409,518 C410,526 414,528 420,527 C426,526 427,520 425,516 M414,508 C418,504 424,506 424,510 M412,514 L420,513 L416,520 L423,521" stroke-width="2.2"/>
<path d="M421,530 L424,545" stroke-width="1.5"/>
<path d="M431,503 L439,500 L444,505 L444,515 L438,521 L430,519 L427,510 Z" fill="#fff" stroke-width="2"/>
<path d="M430,504 L436,508 L444,505 M436,508 L437,521" stroke-width="1.2"/>
<circle cx="437" cy="511" r="3.2" fill="#fff" stroke-width="1.8"/>
<path d="M439,496 L441,490" stroke-width="1.5"/>
</g>
<g class="lbl" stroke-width="1.5"><path d="M 350.06,558.38 L 351.12,557.00 L 351.12,568.00"/><path d="M 355.05,559.75 C 355.05,558.01 356.64,557.00 358.76,557.00 C 361.09,557.00 362.58,558.19 362.58,559.93 C 362.58,562.13 359.61,564.15 354.94,568.00 L 363.00,568.00"/></g>
<g class="lbl" stroke-width="1.5"><path d="M 389.06,558.38 L 390.12,557.00 L 390.12,568.00"/><ellipse cx="397.76" cy="562.50" rx="4.24" ry="5.50"/></g>
<g class="lbl" stroke-width="1.5"><path d="M 419.73,548.25 L 420.85,547.00 L 420.85,557.00"/><path d="M 425.58,548.25 L 426.70,547.00 L 426.70,557.00"/></g>
<g class="lbl" stroke-width="1.5"><path d="M 436.10,479.50 L 437.20,478.00 L 437.20,490.00"/><path d="M 441.37,479.60 C 442.36,478.50 443.68,478.00 445.11,478.00 C 447.30,478.00 448.84,479.20 448.84,481.00 C 448.84,482.80 447.30,483.80 444.45,483.80 C 447.52,483.80 449.50,485.00 449.50,487.00 C 449.50,488.90 447.63,490.00 445.11,490.00 C 443.46,490.00 441.81,489.40 440.93,488.30"/></g>

<!-- 14 clevis -->
<g id="p14">
<path d="M459,497 L452,498 C447,501 446,515 451,518 L460,518" fill="#fff" stroke-width="2.2"/>
<path d="M453,499 C450,504 450,512 453,517" stroke-width="1.5"/>
<path d="M459,490 L532,477 C537,476 540,482 539,490 C538,496 535,499 531,500 L484,512 L484,515 L462,520 C460,520 459,518 459,516 Z" fill="#fff" stroke-width="2.5"/>
<path d="M459,497 L479,498 L484,515" stroke-width="1.5"/>
<path d="M482,491.5 L530,483.5" stroke-width="3.5"/>
<path d="M483,497 L531,489" stroke-width="1.2"/>
<circle cx="526" cy="494" r="4.5" fill="#222"/>
<path d="M462,520 L484,515" stroke-width="3"/>
<path d="M493,517 L490,531" stroke-width="1.5"/>
</g>
<g class="lbl" stroke-width="1.5"><path d="M 484.58,535.45 L 485.57,534.00 L 485.57,545.60"/><path d="M 494.63,545.60 L 494.63,534.00 M 494.24,534.19 L 488.72,542.31 L 496.60,542.31"/></g>

<!-- 19 highlighted pin -->
<circle cx="531" cy="533.3" r="23.5" fill="#ffec1a" stroke="none"/>
<g id="p19">
<path d="M517,535 L517,522 C517,517 525,517 526,522 L526,535" fill="#ffec1a" stroke-width="2"/>
<ellipse cx="519.5" cy="541" rx="8.5" ry="7.2" fill="#ffec1a" stroke-width="2"/>
<path d="M512,536 C515,534 523,534 527,536" stroke-width="1.3"/>
<path d="M528.5,534.5 L536,531" stroke-width="1.5"/>
</g>
<g class="lbl" stroke-width="1.5"><path d="M 539.45,527.25 L 540.39,526.00 L 540.39,536.00"/><path d="M 544.37,534.83 C 545.03,535.58 546.08,536.00 547.21,536.00 C 549.48,536.00 551.00,534.00 551.00,530.17 C 551.00,527.58 549.48,526.00 547.21,526.00 C 545.03,526.00 543.42,527.33 543.42,529.17 C 543.42,531.00 544.94,532.17 547.02,532.17 C 548.82,532.17 550.43,531.33 551.00,529.83"/></g>

<!-- ===== 31 cap, 32 washer, 35 reservoir ===== -->
<g id="p31">
<path d="M268,641 C268,637 272,634 280,633 L316,632 C322,633 325,638 325,642 L325,658 C323,666 310,669 297,669 C282,669 270,665 269,658 Z" fill="#fff" stroke-width="2.5"/>
<ellipse cx="296.5" cy="641" rx="28.5" ry="9" fill="#fff" stroke-width="2.5"/>
<path d="M270,648 C278,654 314,654 324,648" stroke-width="3" stroke-dasharray="1 1"/>
<path d="M269,656 C280,662 314,662 325,656" stroke-width="2"/>
<path d="M279,627 L290,622 L307,623 L316,629 L314,638 L300,642 L283,640 L278,635 Z" fill="#fff" stroke-width="2.5"/>
<path d="M283,630 L297,633 L310,630 M297,633 L299,641" stroke-width="1.5"/>
<path d="M328,644 L344,642" stroke-width="1.5"/>
<ellipse cx="296.5" cy="686.5" rx="26.5" ry="11.5" stroke-width="2.5"/>
<ellipse cx="296.5" cy="686" rx="19.5" ry="7" stroke-width="2"/>
<path d="M328,680 L344,676" stroke-width="1.5"/>
</g>
<g class="lbl" stroke-width="1.5"><path d="M 347.64,638.47 C 348.59,637.46 349.86,637.00 351.24,637.00 C 353.36,637.00 354.85,638.10 354.85,639.75 C 354.85,641.40 353.36,642.32 350.61,642.32 C 353.58,642.32 355.48,643.42 355.48,645.25 C 355.48,646.99 353.68,648.00 351.24,648.00 C 349.65,648.00 348.06,647.45 347.21,646.44"/><path d="M 358.88,638.38 L 359.94,637.00 L 359.94,648.00"/></g>
<g class="lbl" stroke-width="1.5"><path d="M 345.53,672.60 C 346.32,671.50 347.37,671.00 348.52,671.00 C 350.27,671.00 351.51,672.20 351.51,674.00 C 351.51,675.80 350.27,676.80 347.99,676.80 C 350.45,676.80 352.03,678.00 352.03,680.00 C 352.03,681.90 350.54,683.00 348.52,683.00 C 347.20,683.00 345.88,682.40 345.18,681.30"/><path d="M 354.41,674.00 C 354.41,672.10 355.73,671.00 357.48,671.00 C 359.42,671.00 360.65,672.30 360.65,674.20 C 360.65,676.60 358.19,678.80 354.32,683.00 L 361.00,683.00"/></g>

<g id="p35">
<path d="M253,742 C253,728 280,722 298.5,722 C318,722 344,728 344,742 L342,778 L256,778 Z" fill="#fff" stroke="none"/>
<path d="M316,767 L340,767" stroke-width="23" stroke-dasharray="1.3 1.1"/>
<ellipse cx="298.5" cy="742" rx="45.5" ry="17.5" fill="#fff" stroke-width="2.5"/>
<ellipse cx="298.5" cy="741" rx="39" ry="13" stroke-width="1.5"/>
<path d="M256,745 L257,778 M342,745 L341,778" stroke-width="2.8"/>
<path d="M263,758 L264,778" stroke-width="1" stroke-dasharray="1 1.5"/>
<path d="M262,752 C280,760 320,760 338,752" stroke-width="1" stroke-dasharray="1.5 1.5"/>
<path d="M271,712 L271,740 C280,748 316,748 323,740 L323,712" fill="#fff" stroke-width="2.5"/>
<ellipse cx="297" cy="713" rx="26" ry="10" fill="#fff" stroke-width="2.5"/>
<ellipse cx="298" cy="714" rx="16" ry="5.5" stroke-width="2.2"/>
<path d="M284,716 C290,719 306,719 312,716" stroke-width="1.5"/>
<path d="M271,724 C280,731 314,731 323,724 M271,733 C280,739 314,739 323,733" stroke-width="2"/>
<path d="M310,742 L320,740" stroke-width="3"/>
<path d="M230,778 L235,773" stroke-width="1.5"/>
</g>
<g class="lbl" stroke-width="1.5"><path d="M 230.59,761.60 C 231.48,760.50 232.67,760.00 233.96,760.00 C 235.93,760.00 237.32,761.20 237.32,763.00 C 237.32,764.80 235.93,765.80 233.36,765.80 C 236.13,765.80 237.91,767.00 237.91,769.00 C 237.91,770.90 236.23,772.00 233.96,772.00 C 232.47,772.00 230.99,771.40 230.20,770.30"/><path d="M 247.60,760.00 L 241.67,760.00 L 240.98,765.60 C 241.87,764.90 242.96,764.50 244.04,764.50 C 246.52,764.50 248.00,766.00 248.00,768.20 C 248.00,770.50 246.32,772.00 244.04,772.00 C 242.46,772.00 241.08,771.30 240.38,770.20"/></g>
<text x="276" y="606" style="font-size:9px;fill:#ddd;stroke:none;letter-spacing:0">Ai 1987</text>
<g class="lbl" stroke-width="1.5"><path d="M 167.63,761.73 C 168.57,760.54 169.82,760.00 171.18,760.00 C 173.26,760.00 174.73,761.30 174.73,763.25 C 174.73,765.20 173.26,766.28 170.55,766.28 C 173.47,766.28 175.35,767.58 175.35,769.75 C 175.35,771.81 173.58,773.00 171.18,773.00 C 169.61,773.00 168.04,772.35 167.21,771.16"/><path d="M 184.96,761.52 C 184.23,760.54 183.08,760.00 181.82,760.00 C 179.32,760.00 177.65,762.60 177.65,767.58 C 177.65,770.94 179.32,773.00 181.82,773.00 C 184.23,773.00 186.00,771.27 186.00,768.88 C 186.00,766.50 184.33,764.98 182.03,764.98 C 180.05,764.98 178.27,766.07 177.65,768.02"/></g>

</g>
</svg>
</body></html>
